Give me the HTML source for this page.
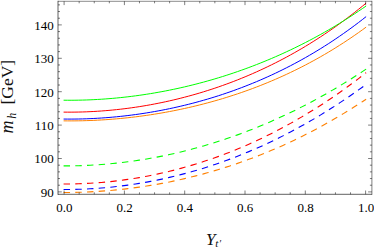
<!DOCTYPE html>
<html><head><meta charset="utf-8"><title>plot</title>
<style>html,body{margin:0;padding:0;background:#fff;width:374px;height:248px;overflow:hidden}</style>
</head><body>
<svg width="374" height="248" viewBox="0 0 374 248" style="position:absolute;left:0;top:0">
<rect width="374" height="248" fill="#fff"/>
<path d="M63.59,119.05 L67.37,119.08 L71.15,119.08 L74.93,119.06 L78.71,119.00 L82.50,118.91 L86.28,118.80 L90.06,118.65 L93.84,118.47 L97.62,118.26 L101.40,118.03 L105.18,117.76 L108.97,117.47 L112.75,117.14 L116.53,116.79 L120.31,116.40 L124.09,115.99 L127.87,115.54 L131.66,115.07 L135.44,114.57 L139.22,114.04 L143.00,113.47 L146.78,112.88 L150.56,112.26 L154.34,111.60 L158.13,110.92 L161.91,110.21 L165.69,109.46 L169.47,108.68 L173.25,107.88 L177.03,107.04 L180.82,106.17 L184.60,105.27 L188.38,104.33 L192.16,103.37 L195.94,102.37 L199.72,101.34 L203.51,100.27 L207.29,99.18 L211.07,98.04 L214.85,96.88 L218.63,95.68 L222.41,94.44 L226.19,93.17 L229.98,91.87 L233.76,90.52 L237.54,89.14 L241.32,87.73 L245.10,86.27 L248.88,84.78 L252.67,83.25 L256.45,81.69 L260.23,80.08 L264.01,78.43 L267.79,76.74 L271.57,75.02 L275.36,73.25 L279.14,71.43 L282.92,69.58 L286.70,67.68 L290.48,65.74 L294.26,63.75 L298.04,61.72 L301.83,59.65 L305.61,57.52 L309.39,55.35 L313.17,53.13 L316.95,50.87 L320.73,48.55 L324.52,46.18 L328.30,43.77 L332.08,41.30 L335.86,38.78 L339.64,36.21 L343.42,33.58 L347.20,30.90 L350.99,28.16 L354.77,25.37 L358.55,22.52 L362.33,19.61 L366.11,16.64" fill="none" stroke="#0000ff" stroke-width="1.0"/>
<path d="M63.59,112.12 L67.37,112.15 L71.15,112.15 L74.93,112.12 L78.71,112.06 L82.50,111.96 L86.28,111.83 L90.06,111.67 L93.84,111.48 L97.62,111.25 L101.40,110.99 L105.18,110.70 L108.97,110.38 L112.75,110.03 L116.53,109.64 L120.31,109.22 L124.09,108.78 L127.87,108.30 L131.66,107.78 L135.44,107.24 L139.22,106.66 L143.00,106.05 L146.78,105.41 L150.56,104.74 L154.34,104.03 L158.13,103.29 L161.91,102.52 L165.69,101.72 L169.47,100.88 L173.25,100.01 L177.03,99.11 L180.82,98.17 L184.60,97.20 L188.38,96.19 L192.16,95.15 L195.94,94.08 L199.72,92.97 L203.51,91.82 L207.29,90.64 L211.07,89.43 L214.85,88.18 L218.63,86.89 L222.41,85.56 L226.19,84.20 L229.98,82.80 L233.76,81.36 L237.54,79.89 L241.32,78.37 L245.10,76.82 L248.88,75.22 L252.67,73.59 L256.45,71.92 L260.23,70.20 L264.01,68.44 L267.79,66.64 L271.57,64.80 L275.36,62.92 L279.14,60.99 L282.92,59.02 L286.70,57.00 L290.48,54.93 L294.26,52.83 L298.04,50.67 L301.83,48.47 L305.61,46.22 L309.39,43.92 L313.17,41.57 L316.95,39.17 L320.73,36.72 L324.52,34.22 L328.30,31.67 L332.08,29.06 L335.86,26.41 L339.64,23.69 L343.42,20.93 L347.20,18.10 L350.99,15.22 L354.77,12.29 L358.55,9.29 L362.33,6.24 L366.11,3.12" fill="none" stroke="#ff0000" stroke-width="1.0"/>
<path d="M63.59,100.21 L67.37,100.24 L71.15,100.25 L74.93,100.22 L78.71,100.17 L82.50,100.08 L86.28,99.97 L90.06,99.83 L93.84,99.65 L97.62,99.45 L101.40,99.22 L105.18,98.96 L108.97,98.67 L112.75,98.36 L116.53,98.01 L120.31,97.64 L124.09,97.23 L127.87,96.80 L131.66,96.34 L135.44,95.85 L139.22,95.33 L143.00,94.79 L146.78,94.21 L150.56,93.61 L154.34,92.98 L158.13,92.31 L161.91,91.63 L165.69,90.91 L169.47,90.16 L173.25,89.38 L177.03,88.58 L180.82,87.74 L184.60,86.88 L188.38,85.98 L192.16,85.06 L195.94,84.10 L199.72,83.12 L203.51,82.11 L207.29,81.06 L211.07,79.99 L214.85,78.88 L218.63,77.74 L222.41,76.58 L226.19,75.38 L229.98,74.15 L233.76,72.88 L237.54,71.59 L241.32,70.26 L245.10,68.90 L248.88,67.51 L252.67,66.08 L256.45,64.62 L260.23,63.13 L264.01,61.60 L267.79,60.04 L271.57,58.45 L275.36,56.81 L279.14,55.15 L282.92,53.44 L286.70,51.70 L290.48,49.93 L294.26,48.11 L298.04,46.26 L301.83,44.37 L305.61,42.45 L309.39,40.48 L313.17,38.48 L316.95,36.43 L320.73,34.35 L324.52,32.22 L328.30,30.05 L332.08,27.85 L335.86,25.59 L339.64,23.30 L343.42,20.97 L347.20,18.59 L350.99,16.16 L354.77,13.69 L358.55,11.18 L362.33,8.62 L366.11,6.01" fill="none" stroke="#00ff00" stroke-width="1.0"/>
<path d="M63.59,120.85 L67.37,120.88 L71.15,120.89 L74.93,120.87 L78.71,120.82 L82.50,120.75 L86.28,120.64 L90.06,120.51 L93.84,120.36 L97.62,120.17 L101.40,119.96 L105.18,119.73 L108.97,119.46 L112.75,119.17 L116.53,118.85 L120.31,118.51 L124.09,118.14 L127.87,117.74 L131.66,117.31 L135.44,116.86 L139.22,116.38 L143.00,115.87 L146.78,115.34 L150.56,114.78 L154.34,114.19 L158.13,113.57 L161.91,112.93 L165.69,112.26 L169.47,111.56 L173.25,110.83 L177.03,110.07 L180.82,109.28 L184.60,108.47 L188.38,107.62 L192.16,106.75 L195.94,105.85 L199.72,104.91 L203.51,103.95 L207.29,102.95 L211.07,101.93 L214.85,100.87 L218.63,99.78 L222.41,98.66 L226.19,97.50 L229.98,96.31 L233.76,95.09 L237.54,93.84 L241.32,92.55 L245.10,91.23 L248.88,89.87 L252.67,88.47 L256.45,87.04 L260.23,85.58 L264.01,84.07 L267.79,82.53 L271.57,80.95 L275.36,79.33 L279.14,77.67 L282.92,75.98 L286.70,74.24 L290.48,72.46 L294.26,70.63 L298.04,68.77 L301.83,66.86 L305.61,64.91 L309.39,62.92 L313.17,60.88 L316.95,58.79 L320.73,56.66 L324.52,54.47 L328.30,52.25 L332.08,49.97 L335.86,47.64 L339.64,45.26 L343.42,42.83 L347.20,40.35 L350.99,37.82 L354.77,35.23 L358.55,32.59 L362.33,29.89 L366.11,27.14" fill="none" stroke="#ff8000" stroke-width="1.0"/>
<path d="M63.59,189.55 L67.37,189.54 L71.15,189.50 L74.93,189.42 L78.71,189.32 L82.50,189.18 L86.28,189.02 L90.06,188.82 L93.84,188.59 L97.62,188.33 L101.40,188.04 L105.18,187.72 L108.97,187.36 L112.75,186.98 L116.53,186.56 L120.31,186.11 L124.09,185.63 L127.87,185.12 L131.66,184.58 L135.44,184.01 L139.22,183.40 L143.00,182.76 L146.78,182.09 L150.56,181.39 L154.34,180.66 L158.13,179.89 L161.91,179.10 L165.69,178.27 L169.47,177.40 L173.25,176.51 L177.03,175.58 L180.82,174.62 L184.60,173.63 L188.38,172.61 L192.16,171.55 L195.94,170.46 L199.72,169.33 L203.51,168.17 L207.29,166.98 L211.07,165.76 L214.85,164.50 L218.63,163.20 L222.41,161.88 L226.19,160.52 L229.98,159.12 L233.76,157.69 L237.54,156.23 L241.32,154.73 L245.10,153.19 L248.88,151.62 L252.67,150.02 L256.45,148.38 L260.23,146.70 L264.01,144.99 L267.79,143.24 L271.57,141.46 L275.36,139.64 L279.14,137.78 L282.92,135.88 L286.70,133.95 L290.48,131.98 L294.26,129.98 L298.04,127.93 L301.83,125.85 L305.61,123.73 L309.39,121.57 L313.17,119.38 L316.95,117.14 L320.73,114.87 L324.52,112.55 L328.30,110.20 L332.08,107.81 L335.86,105.37 L339.64,102.90 L343.42,100.39 L347.20,97.83 L350.99,95.23 L354.77,92.60 L358.55,89.92 L362.33,87.20 L366.11,84.43" fill="none" stroke="#0000ff" stroke-width="1.1" stroke-dasharray="6.45 5.25"/>
<path d="M63.59,184.02 L67.37,184.01 L71.15,183.96 L74.93,183.89 L78.71,183.78 L82.50,183.64 L86.28,183.46 L90.06,183.26 L93.84,183.02 L97.62,182.74 L101.40,182.44 L105.18,182.10 L108.97,181.73 L112.75,181.33 L116.53,180.89 L120.31,180.42 L124.09,179.92 L127.87,179.39 L131.66,178.82 L135.44,178.22 L139.22,177.59 L143.00,176.92 L146.78,176.22 L150.56,175.48 L154.34,174.71 L158.13,173.91 L161.91,173.07 L165.69,172.20 L169.47,171.30 L173.25,170.36 L177.03,169.39 L180.82,168.38 L184.60,167.34 L188.38,166.26 L192.16,165.15 L195.94,164.00 L199.72,162.82 L203.51,161.60 L207.29,160.35 L211.07,159.06 L214.85,157.74 L218.63,156.38 L222.41,154.98 L226.19,153.55 L229.98,152.08 L233.76,150.57 L237.54,149.02 L241.32,147.44 L245.10,145.82 L248.88,144.17 L252.67,142.47 L256.45,140.74 L260.23,138.97 L264.01,137.16 L267.79,135.31 L271.57,133.42 L275.36,131.49 L279.14,129.53 L282.92,127.52 L286.70,125.47 L290.48,123.39 L294.26,121.26 L298.04,119.09 L301.83,116.88 L305.61,114.63 L309.39,112.33 L313.17,110.00 L316.95,107.62 L320.73,105.20 L324.52,102.74 L328.30,100.23 L332.08,97.68 L335.86,95.08 L339.64,92.44 L343.42,89.76 L347.20,87.03 L350.99,84.26 L354.77,81.44 L358.55,78.57 L362.33,75.66 L366.11,72.70" fill="none" stroke="#ff0000" stroke-width="1.1" stroke-dasharray="6.45 5.25"/>
<path d="M63.59,165.92 L67.37,165.91 L71.15,165.87 L74.93,165.80 L78.71,165.71 L82.50,165.58 L86.28,165.42 L90.06,165.24 L93.84,165.02 L97.62,164.78 L101.40,164.50 L105.18,164.20 L108.97,163.87 L112.75,163.51 L116.53,163.12 L120.31,162.70 L124.09,162.25 L127.87,161.77 L131.66,161.26 L135.44,160.73 L139.22,160.16 L143.00,159.56 L146.78,158.94 L150.56,158.28 L154.34,157.59 L158.13,156.88 L161.91,156.13 L165.69,155.36 L169.47,154.55 L173.25,153.72 L177.03,152.85 L180.82,151.96 L184.60,151.03 L188.38,150.08 L192.16,149.09 L195.94,148.07 L199.72,147.03 L203.51,145.95 L207.29,144.84 L211.07,143.70 L214.85,142.53 L218.63,141.33 L222.41,140.10 L226.19,138.83 L229.98,137.54 L233.76,136.21 L237.54,134.86 L241.32,133.47 L245.10,132.05 L248.88,130.59 L252.67,129.11 L256.45,127.59 L260.23,126.05 L264.01,124.47 L267.79,122.85 L271.57,121.21 L275.36,119.53 L279.14,117.82 L282.92,116.08 L286.70,114.30 L290.48,112.49 L294.26,110.65 L298.04,108.78 L301.83,106.87 L305.61,104.92 L309.39,102.95 L313.17,100.94 L316.95,98.89 L320.73,96.82 L324.52,94.70 L328.30,92.56 L332.08,90.37 L335.86,88.16 L339.64,85.91 L343.42,83.62 L347.20,81.30 L350.99,78.94 L354.77,76.54 L358.55,74.12 L362.33,71.65 L366.11,69.15" fill="none" stroke="#00ff00" stroke-width="1.1" stroke-dasharray="6.45 5.25"/>
<path d="M63.59,192.47 L67.37,192.46 L71.15,192.43 L74.93,192.36 L78.71,192.27 L82.50,192.16 L86.28,192.01 L90.06,191.84 L93.84,191.64 L97.62,191.42 L101.40,191.16 L105.18,190.88 L108.97,190.58 L112.75,190.24 L116.53,189.88 L120.31,189.49 L124.09,189.08 L127.87,188.63 L131.66,188.16 L135.44,187.67 L139.22,187.14 L143.00,186.59 L146.78,186.00 L150.56,185.39 L154.34,184.76 L158.13,184.09 L161.91,183.40 L165.69,182.67 L169.47,181.92 L173.25,181.14 L177.03,180.33 L180.82,179.50 L184.60,178.63 L188.38,177.74 L192.16,176.81 L195.94,175.86 L199.72,174.87 L203.51,173.86 L207.29,172.82 L211.07,171.74 L214.85,170.64 L218.63,169.50 L222.41,168.34 L226.19,167.14 L229.98,165.92 L233.76,164.66 L237.54,163.37 L241.32,162.05 L245.10,160.70 L248.88,159.31 L252.67,157.90 L256.45,156.45 L260.23,154.97 L264.01,153.45 L267.79,151.91 L271.57,150.32 L275.36,148.71 L279.14,147.06 L282.92,145.38 L286.70,143.66 L290.48,141.91 L294.26,140.13 L298.04,138.30 L301.83,136.45 L305.61,134.56 L309.39,132.63 L313.17,130.66 L316.95,128.66 L320.73,126.62 L324.52,124.55 L328.30,122.44 L332.08,120.29 L335.86,118.10 L339.64,115.87 L343.42,113.61 L347.20,111.30 L350.99,108.96 L354.77,106.58 L358.55,104.15 L362.33,101.69 L366.11,99.19" fill="none" stroke="#ff8000" stroke-width="1.1" stroke-dasharray="6.45 5.25"/>
<g stroke="#000" stroke-opacity="0.62" stroke-width="1" fill="none">
<path d="M58.0,0.8 V194.8" /><path d="M58.0,194.3 H371.9"/><path d="M371.9,0.8 V194.8" stroke-opacity="0.5"/><path d="M58.0,1.3 H371.9" stroke-opacity="0.45"/>
<path d="M64.10,194.3 v-3.8 M64.10,1.3 v3.8" stroke-width="0.85" stroke-opacity="0.6"/>
<path d="M79.17,194.3 v-2.0 M79.17,1.3 v2.0" stroke-width="0.85" stroke-opacity="0.6"/>
<path d="M94.25,194.3 v-2.0 M94.25,1.3 v2.0" stroke-width="0.85" stroke-opacity="0.6"/>
<path d="M109.33,194.3 v-2.0 M109.33,1.3 v2.0" stroke-width="0.85" stroke-opacity="0.6"/>
<path d="M124.40,194.3 v-3.8 M124.40,1.3 v3.8" stroke-width="0.85" stroke-opacity="0.6"/>
<path d="M139.47,194.3 v-2.0 M139.47,1.3 v2.0" stroke-width="0.85" stroke-opacity="0.6"/>
<path d="M154.55,194.3 v-2.0 M154.55,1.3 v2.0" stroke-width="0.85" stroke-opacity="0.6"/>
<path d="M169.62,194.3 v-2.0 M169.62,1.3 v2.0" stroke-width="0.85" stroke-opacity="0.6"/>
<path d="M184.70,194.3 v-3.8 M184.70,1.3 v3.8" stroke-width="0.85" stroke-opacity="0.6"/>
<path d="M199.78,194.3 v-2.0 M199.78,1.3 v2.0" stroke-width="0.85" stroke-opacity="0.6"/>
<path d="M214.85,194.3 v-2.0 M214.85,1.3 v2.0" stroke-width="0.85" stroke-opacity="0.6"/>
<path d="M229.93,194.3 v-2.0 M229.93,1.3 v2.0" stroke-width="0.85" stroke-opacity="0.6"/>
<path d="M245.00,194.3 v-3.8 M245.00,1.3 v3.8" stroke-width="0.85" stroke-opacity="0.6"/>
<path d="M260.07,194.3 v-2.0 M260.07,1.3 v2.0" stroke-width="0.85" stroke-opacity="0.6"/>
<path d="M275.15,194.3 v-2.0 M275.15,1.3 v2.0" stroke-width="0.85" stroke-opacity="0.6"/>
<path d="M290.23,194.3 v-2.0 M290.23,1.3 v2.0" stroke-width="0.85" stroke-opacity="0.6"/>
<path d="M305.30,194.3 v-3.8 M305.30,1.3 v3.8" stroke-width="0.85" stroke-opacity="0.6"/>
<path d="M320.38,194.3 v-2.0 M320.38,1.3 v2.0" stroke-width="0.85" stroke-opacity="0.6"/>
<path d="M335.45,194.3 v-2.0 M335.45,1.3 v2.0" stroke-width="0.85" stroke-opacity="0.6"/>
<path d="M350.52,194.3 v-2.0 M350.52,1.3 v2.0" stroke-width="0.85" stroke-opacity="0.6"/>
<path d="M365.60,194.3 v-3.8 M365.60,1.3 v3.8" stroke-width="0.85" stroke-opacity="0.6"/>
<path d="M58.0,191.90 h3.8 M371.9,191.90 h-3.8" stroke-width="0.85" stroke-opacity="0.6"/>
<path d="M58.0,185.22 h2.0 M371.9,185.22 h-2.0" stroke-width="0.85" stroke-opacity="0.6"/>
<path d="M58.0,178.54 h2.0 M371.9,178.54 h-2.0" stroke-width="0.85" stroke-opacity="0.6"/>
<path d="M58.0,171.86 h2.0 M371.9,171.86 h-2.0" stroke-width="0.85" stroke-opacity="0.6"/>
<path d="M58.0,165.18 h2.0 M371.9,165.18 h-2.0" stroke-width="0.85" stroke-opacity="0.6"/>
<path d="M58.0,158.50 h3.8 M371.9,158.50 h-3.8" stroke-width="0.85" stroke-opacity="0.6"/>
<path d="M58.0,151.82 h2.0 M371.9,151.82 h-2.0" stroke-width="0.85" stroke-opacity="0.6"/>
<path d="M58.0,145.14 h2.0 M371.9,145.14 h-2.0" stroke-width="0.85" stroke-opacity="0.6"/>
<path d="M58.0,138.46 h2.0 M371.9,138.46 h-2.0" stroke-width="0.85" stroke-opacity="0.6"/>
<path d="M58.0,131.78 h2.0 M371.9,131.78 h-2.0" stroke-width="0.85" stroke-opacity="0.6"/>
<path d="M58.0,125.10 h3.8 M371.9,125.10 h-3.8" stroke-width="0.85" stroke-opacity="0.6"/>
<path d="M58.0,118.42 h2.0 M371.9,118.42 h-2.0" stroke-width="0.85" stroke-opacity="0.6"/>
<path d="M58.0,111.74 h2.0 M371.9,111.74 h-2.0" stroke-width="0.85" stroke-opacity="0.6"/>
<path d="M58.0,105.06 h2.0 M371.9,105.06 h-2.0" stroke-width="0.85" stroke-opacity="0.6"/>
<path d="M58.0,98.38 h2.0 M371.9,98.38 h-2.0" stroke-width="0.85" stroke-opacity="0.6"/>
<path d="M58.0,91.70 h3.8 M371.9,91.70 h-3.8" stroke-width="0.85" stroke-opacity="0.6"/>
<path d="M58.0,85.02 h2.0 M371.9,85.02 h-2.0" stroke-width="0.85" stroke-opacity="0.6"/>
<path d="M58.0,78.34 h2.0 M371.9,78.34 h-2.0" stroke-width="0.85" stroke-opacity="0.6"/>
<path d="M58.0,71.66 h2.0 M371.9,71.66 h-2.0" stroke-width="0.85" stroke-opacity="0.6"/>
<path d="M58.0,64.98 h2.0 M371.9,64.98 h-2.0" stroke-width="0.85" stroke-opacity="0.6"/>
<path d="M58.0,58.30 h3.8 M371.9,58.30 h-3.8" stroke-width="0.85" stroke-opacity="0.6"/>
<path d="M58.0,51.62 h2.0 M371.9,51.62 h-2.0" stroke-width="0.85" stroke-opacity="0.6"/>
<path d="M58.0,44.94 h2.0 M371.9,44.94 h-2.0" stroke-width="0.85" stroke-opacity="0.6"/>
<path d="M58.0,38.26 h2.0 M371.9,38.26 h-2.0" stroke-width="0.85" stroke-opacity="0.6"/>
<path d="M58.0,31.58 h2.0 M371.9,31.58 h-2.0" stroke-width="0.85" stroke-opacity="0.6"/>
<path d="M58.0,24.90 h3.8 M371.9,24.90 h-3.8" stroke-width="0.85" stroke-opacity="0.6"/>
<path d="M58.0,18.22 h2.0 M371.9,18.22 h-2.0" stroke-width="0.85" stroke-opacity="0.6"/>
<path d="M58.0,11.54 h2.0 M371.9,11.54 h-2.0" stroke-width="0.85" stroke-opacity="0.6"/>
<path d="M58.0,4.86 h2.0 M371.9,4.86 h-2.0" stroke-width="0.85" stroke-opacity="0.6"/>
</g>
<g font-family="'Liberation Serif', serif" font-size="13" fill="#000" text-anchor="middle">
<text x="64.25" y="212.1">0.0</text>
<text x="124.5" y="212.1">0.2</text>
<text x="184.9" y="212.1">0.4</text>
<text x="245.2" y="212.1">0.6</text>
<text x="305.5" y="212.1">0.8</text>
<text x="366" y="212.1">1.0</text>
</g>
<g font-family="'Liberation Serif', serif" font-size="13" fill="#000" text-anchor="end">
<text x="53.7" y="196.85">90</text>
<text x="53.7" y="163.45">100</text>
<text x="53.7" y="130.05">110</text>
<text x="53.7" y="96.65">120</text>
<text x="53.7" y="63.25">130</text>
<text x="53.7" y="29.85">140</text>
</g>
<g font-family="'Liberation Serif', serif" fill="#111">
<text x="206" y="245" font-size="17" font-style="italic">Y</text>
<text x="215.3" y="247.4" font-size="11" font-style="italic">t</text>
<text x="219.6" y="246.6" font-size="10">′</text>
</g>
<g transform="translate(13,0) rotate(-90)" font-family="'Liberation Serif', serif" fill="#111">
<text x="-133.4" y="0" font-size="18" font-style="italic">m</text>
<text x="-118.8" y="3" font-size="12" font-style="italic">h</text>
<text x="-104.5" y="0" font-size="17.5">[GeV]</text>
</g>
</svg>
</body></html>
